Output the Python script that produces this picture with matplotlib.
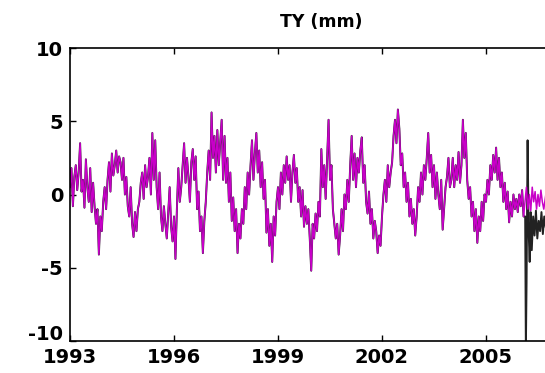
import numpy as np
import matplotlib
matplotlib.use("Agg")
import matplotlib.pyplot as plt
from matplotlib.transforms import ScaledTranslation

# semi-monthly values (mm), 24 per year starting 1993.0
y1993 = [0.5, 1.8, -0.8, 1.2, 2.0, 0.3, 1.5, 3.5, 0.2, 1.0, -0.9, 2.4, 0.5, -0.5, 1.8, -1.2, 0.8, -0.8, -2.0, -1.0, -4.1, -1.5, -2.5, -0.5]
y1994 = [0.5, -1.0, 1.0, 2.2, 0.2, 2.8, 1.3, 2.0, 3.0, 1.5, 2.6, 2.2, 1.0, 2.5, 0.0, 1.2, -0.8, -1.5, 0.5, -2.0, -2.9, -1.2, -2.5, -1.0]
y1995 = [-0.5, 0.8, 1.5, -0.3, 2.0, 0.5, 1.2, 2.5, 0.0, 4.2, 1.0, 3.7, 0.5, -1.0, 1.5, -1.5, -2.5, -0.8, -2.0, -3.0, -1.2, 0.5, -2.2, -3.2]
y1996 = [-1.5, -4.4, -1.0, 1.8, -0.5, 0.5, 2.0, 3.5, 0.8, 2.5, 1.2, -0.5, 2.2, 3.1, 1.0, 2.6, -1.0, 0.2, -2.5, -1.5, -4.0, -1.8, -0.5, 1.5]
y1997 = [3.0, 1.0, 5.6, 2.5, 4.0, 1.5, 4.4, 2.0, 3.5, 5.1, 1.0, 4.0, 0.8, 2.5, -0.5, 1.5, -1.8, -0.2, -2.5, -1.0, -4.0, -2.0, -3.0, -1.0]
y1998 = [-2.0, 0.5, -1.0, 1.5, 0.0, 2.0, 3.7, 1.0, 2.8, 4.2, 1.5, 3.0, 0.5, 2.2, -0.3, 1.0, -2.6, -1.0, -3.5, -2.0, -4.6, -1.5, -2.8, -0.5]
y1999 = [0.5, -1.0, 1.5, 0.0, 2.0, 0.8, 2.6, 1.0, 2.0, -0.5, 1.5, 2.7, 0.8, 1.8, -0.5, 0.5, -1.5, 0.3, -2.2, -0.8, -2.0, -1.0, -3.0, -5.2]
y2000 = [-2.0, -3.0, -1.3, -2.5, -0.5, -1.5, 3.1, 0.5, 2.0, -0.3, 2.3, 5.1, 1.0, 2.0, -1.0, -2.0, -3.0, -2.0, -4.1, -2.8, -1.0, -2.5, 0.0, -1.0]
y2001 = [1.0, -0.5, 2.0, 4.0, 1.0, 2.8, 0.5, 2.5, 1.5, 3.0, 3.9, 0.8, 2.0, -0.5, -1.3, 0.2, -2.0, -1.0, -3.0, -1.8, -2.5, -4.0, -2.8, -3.5]
y2002 = [-1.5, 0.0, 1.0, -0.5, 2.0, 0.5, 1.5, 2.2, 4.0, 5.1, 3.5, 5.8, 4.5, 2.0, 2.8, 0.5, 1.5, -0.5, 0.8, -1.5, -0.3, -2.0, -1.0, -2.8]
y2003 = [-1.5, 0.5, -0.5, 1.5, 0.0, 2.0, 1.0, 2.5, 4.2, 1.5, 2.7, 0.5, 2.0, -0.3, 1.5, 0.0, -1.0, 1.0, -2.4, -1.0, 0.5, 1.2, 2.5, 0.5]
y2004 = [1.0, 2.5, 0.5, 2.0, 1.0, 2.9, 0.8, 2.0, 5.1, 2.5, 4.2, 1.0, -0.3, 0.5, -1.5, -0.5, -2.5, -1.0, -3.3, -1.5, -2.5, -0.5, -1.8, 0.0]
y2005 = [-0.5, 1.0, 0.0, 2.0, 1.0, 2.7, 1.5, 3.2, 1.0, 2.5, 0.5, 1.5, -0.5, 0.8, -1.0, 0.2, -1.9, -0.5, -1.5, 0.0, -1.0, -0.3, -1.2, 0.0]
y2006 = [-0.8, 0.3, -1.5, -0.5, 0.5, -1.0, 0.0, -1.1, 0.5, -0.5, 0.2, -1.0, 0.0, -0.8, 0.3, -0.5, -1.0, -0.3, 0.4, -0.9, 0.0, -0.6, 0.2, -1.0]

filtered = (y1993 + y1994 + y1995 + y1996 + y1997 + y1998 + y1999 + y2000
            + y2001 + y2002 + y2003 + y2004 + y2005 + y2006)
t_filt = 1993 + np.arange(len(filtered)) / 24.0

# raw series follows the filtered one until early 2006, then diverges
n_common = 13 * 24 + 3
t_tail = [2006.13, 2006.15, 2006.17, 2006.20, 2006.23, 2006.26, 2006.29, 2006.32,
          2006.36, 2006.40, 2006.44, 2006.48, 2006.52, 2006.56, 2006.60, 2006.64,
          2006.68, 2006.72]
raw_tail = [-1.5, -10.5, -6.0, 3.7, -2.5, -4.6, -1.2, -3.8, -1.5, -2.8, -1.1,
            -3.0, -1.8, -2.5, -1.2, -2.7, -1.5, -2.2]

t_raw = np.concatenate([t_filt[:n_common], t_tail])
raw = np.concatenate([filtered[:n_common], raw_tail])

plt.rcParams['font.family'] = ['DejaVu Sans']
plt.rcParams['font.weight'] = 'bold'
plt.rcParams['axes.unicode_minus'] = False

fig = plt.figure(figsize=(5.45, 3.73), dpi=100)
ax = fig.add_axes([70 / 545, 32 / 373, 520 / 545, 293 / 373])

ax.plot(t_raw, raw, color='#222222', lw=1.4)
ax.plot(t_filt, filtered, color='#c800c8', lw=1.1)

ax.set_xlim(1993, 2008)
ax.set_ylim(-10, 10)
ax.set_xticks([1993, 1996, 1999, 2002, 2005])
ax.set_yticks([-10, -5, 0, 5, 10])
ax.tick_params(direction='in', top=True, right=True, length=4, width=1,
               labelsize=14)
ax.tick_params(axis='x', pad=5)
ax.tick_params(axis='y', pad=5)
for s in ax.spines.values():
    s.set_linewidth(1.2)

# bottom y label sits a little higher, clear of the year labels
lbl = ax.get_yticklabels()[0]
lbl.set_transform(lbl.get_transform() + ScaledTranslation(0, 6 / 72, fig.dpi_scale_trans))

fig.text(321 / 545, 1 - 22 / 373, 'TY (mm)', fontsize=12.5, fontweight='bold',
         ha='center', va='center')

fig.savefig('out.png', dpi=100)
